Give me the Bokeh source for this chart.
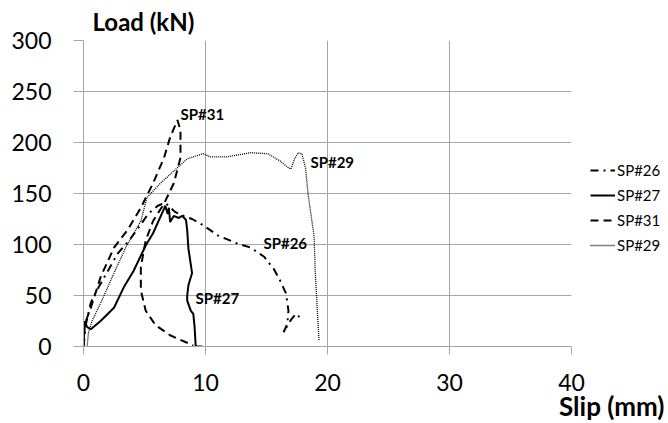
from bokeh.plotting import figure
from bokeh.models import Range1d, Label, Legend, LegendItem, FixedTicker, Title
from bokeh.embed import file_html
from bokeh.resources import INLINE

# ---- data (slip in mm, load in kN) ----
sp26_x = [0, 0.2, 0.6, 1.1, 1.8, 2.8, 3.8, 4.6, 5.3, 6.1, 6.7, 7.5, 8.2, 8.9, 9.8, 11.0, 12.6, 13.7, 14.8, 15.6, 16.1, 16.6, 16.8, 16.7, 16.4, 17.0, 17.4, 17.7]
sp26_y = [0, 22, 43, 55, 70, 91, 105, 118, 130, 138, 141, 132, 128, 125, 119, 109, 101, 97, 88, 76, 65, 52, 35, 22, 14, 26, 32, 29]

sp27_x = [0, 0.1, 0.3, 0.6, 1.4, 2.5, 3.3, 4.1, 5.1, 5.7, 6.6, 6.7, 6.9, 7.0, 7.1, 7.4, 7.8, 8.1, 8.4, 8.5, 8.6, 8.8, 8.9, 8.6, 8.5, 8.5, 8.8, 9.0, 9.1, 9.2, 9.75]
sp27_y = [0, 25, 19, 17, 25, 38, 58, 74, 99, 111, 135, 138, 130, 136, 122, 128, 126, 128, 124, 114, 96, 80, 72, 60, 50, 45, 35, 32, 20, 0, 0]

sp31_x = [0, 0.1, 0.6, 1.4, 2.5, 3.6, 4.7, 5.7, 6.6, 7.1, 7.7, 7.95, 7.95, 7.4, 6.6, 5.7, 5.1, 4.7, 4.7, 5.1, 5.9, 7.1, 9.0]
sp31_y = [0, 22, 38, 68, 97, 114, 136, 160, 185, 205, 222, 212, 185, 160, 140, 123, 104, 78, 55, 35, 21, 11, 1]

sp29_x = [0.3, 0.4, 0.7, 1.5, 2.5, 3.5, 4.7, 5.2, 6.3, 7.4, 8.5, 9.8, 10.4, 11.8, 13.7, 15.1, 16.1, 16.7, 17.0, 17.3, 17.6, 17.9, 18.2, 18.4, 18.9, 19.0, 19.3]
sp29_y = [0, 13, 25, 45, 72, 98, 123, 146, 160, 172, 184, 189, 186, 186, 190, 189, 182, 176, 174, 184, 190, 189, 175, 150, 108, 72, 6]

series_names = ["SP#26", "SP#27", "SP#31", "SP#29"]
x_ticks = [0, 10, 20, 30, 40]
y_ticks = [0, 50, 100, 150, 200, 250, 300]

GRID = "#a6a6a6"
FONT = "Lato"

p = figure(frame_width=488, frame_height=306, output_backend="svg", toolbar_location=None,
           x_range=Range1d(0, 40), y_range=Range1d(0, 300),
           min_border_left=83, min_border_right=97, min_border_top=40, min_border_bottom=77)
p.outline_line_color = None
p.background_fill_color = "white"
p.border_fill_color = "white"

for ax, ticks in ((p.xaxis, x_ticks), (p.yaxis, y_ticks)):
    ax.ticker = FixedTicker(ticks=ticks)
    ax.axis_line_color = GRID
    ax.major_tick_line_color = GRID
    ax.minor_tick_line_color = None
    ax.major_tick_in = 0
    ax.major_label_text_font = FONT
    ax.major_label_text_font_size = "23px"
    ax.major_label_text_color = "black"
p.xaxis.major_tick_out = 8
p.yaxis.major_tick_out = 10
p.xaxis.major_label_standoff = 19
p.yaxis.major_label_standoff = 22

p.xgrid.ticker = FixedTicker(ticks=x_ticks)
p.ygrid.ticker = FixedTicker(ticks=y_ticks)
p.xgrid.grid_line_color = GRID
p.ygrid.grid_line_color = GRID

r26 = p.line(sp26_x, sp26_y, line_color="black", line_width=2, line_dash="8 5 2 5")
r27 = p.line(sp27_x, sp27_y, line_color="black", line_width=2)
r31 = p.line(sp31_x, sp31_y, line_color="black", line_width=2, line_dash="8 5")
r29 = p.line(sp29_x, sp29_y, line_color="black", line_width=1.3, line_dash="1 1")

legend = Legend(items=[LegendItem(label=n, renderers=[r]) for n, r in zip(series_names, [r26, r27, r31, r29])],
                location=(19, 91), glyph_width=25, glyph_height=20, spacing=5,
                label_standoff=2, padding=0, margin=0, border_line_color=None,
                background_fill_alpha=0, label_text_font=FONT, label_text_font_size="15px",
                label_text_color="black", label_height=20)
p.add_layout(legend, "right")

def lab(x, y, t):
    p.add_layout(Label(x=x, y=y, text=t, text_font=FONT, text_font_style="bold",
                       text_font_size="15px", text_align="left", text_baseline="middle",
                       text_color="black"))

lab(7.95, 227.5, "SP#31")
lab(18.6, 181, "SP#29")
lab(14.75, 101, "SP#26")
lab(9.18, 48, "SP#27")

p.add_layout(Title(text="Load (kN)", align="left", offset=9, standoff=9, text_color="black",
                   text_font=FONT, text_font_style="bold", text_font_size="24px"), "above")
p.add_layout(Title(text="Slip (mm)", align="right", offset=-93, standoff=-11, text_color="black",
                   text_font=FONT, text_font_style="bold", text_font_size="26px"), "below")

open("out.html", "w").write(file_html(p, INLINE))
